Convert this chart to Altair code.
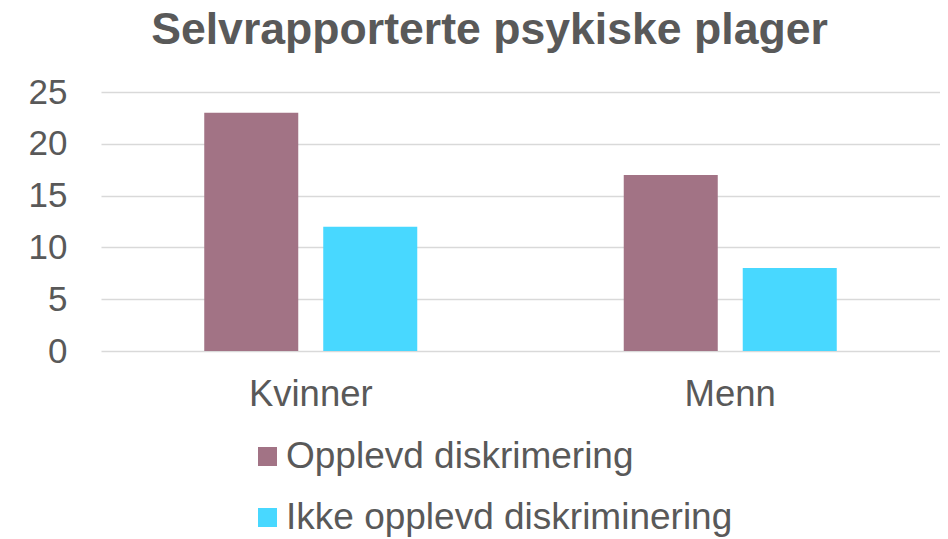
import altair as alt
import pandas as pd

categories = ["Kvinner", "Menn"]
series = ["Opplevd diskrimering", "Ikke opplevd diskriminering"]
opplevd = [23, 17]
ikke_opplevd = [12, 8]
colors = ["#A27385", "#48D8FF"]
y_ticks = [0, 5, 10, 15, 20, 25]

rows = []
for i, c in enumerate(categories):
    rows.append({"kategori": c, "gruppe": series[0], "verdi": opplevd[i]})
    rows.append({"kategori": c, "gruppe": series[1], "verdi": ikke_opplevd[i]})
df = pd.DataFrame(rows)

FONT = "Liberation Sans"
TEXT = "#595959"

chart = alt.Chart(df).mark_bar().encode(
    x=alt.X("kategori:N", sort=categories, title=None,
            scale=alt.Scale(paddingInner=0, paddingOuter=0),
            axis=alt.Axis(labelAngle=0, ticks=False, domain=False, grid=False,
                          labelFont=FONT, labelFontSize=36.5, labelColor=TEXT,
                          labelPadding=25)),
    xOffset=alt.XOffset("gruppe:N", sort=series,
                        scale=alt.Scale(paddingInner=0.21, paddingOuter=0.8676)),
    y=alt.Y("verdi:Q", title=None,
            scale=alt.Scale(domain=[0, 25], nice=False),
            axis=alt.Axis(values=y_ticks, ticks=False, domain=False,
                          gridColor="#D9D9D9", gridWidth=1.5,
                          labelFont=FONT, labelFontSize=35, labelColor=TEXT,
                          labelPadding=34)),
    color=alt.Color("gruppe:N", sort=series,
                    scale=alt.Scale(domain=series, range=colors),
                    legend=alt.Legend(title=None, orient="none",
                                      legendX=148, legendY=346,
                                      direction="vertical",
                                      symbolType="square", symbolSize=361,
                                      symbolStrokeWidth=0,
                                      labelFont=FONT, labelFontSize=37,
                                      labelColor=TEXT, labelOffset=0,
                                      rowPadding=23, labelLimit=600)),
).properties(
    width=839,
    height=259,
    title=alt.TitleParams("Selvrapporterte psykiske plager", font=FONT,
                          fontSize=44.6, fontWeight="bold", color=TEXT,
                          anchor="middle", dx=-31, offset=21),
    autosize=alt.AutoSizeParams(type="none"),
    padding={"left": 93, "top": 84, "right": 0, "bottom": 188},
).configure_view(stroke=None)

chart.save("out.html", embed_options={"renderer": "svg", "actions": False})
